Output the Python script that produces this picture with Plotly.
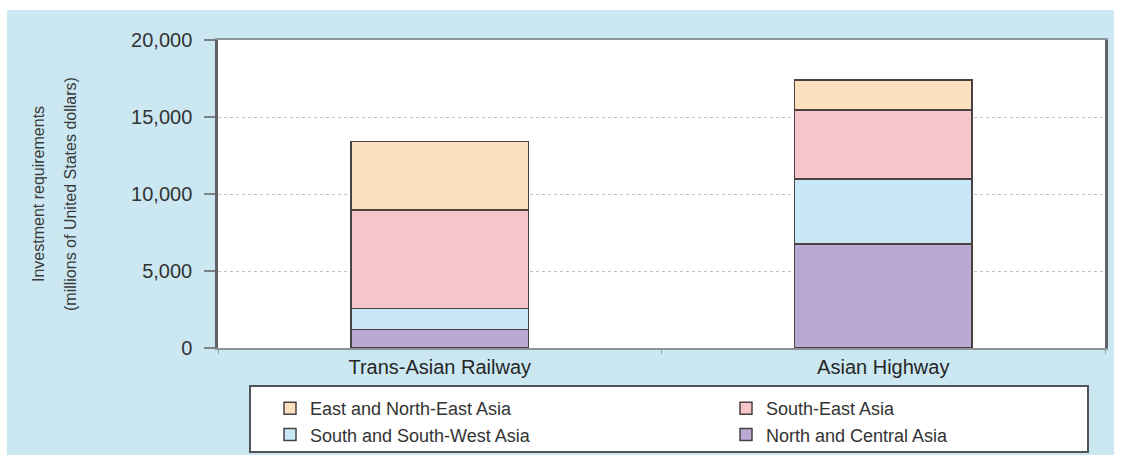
import plotly.graph_objects as go

# ---- data ----
categories = ["Trans-Asian Railway", "Asian Highway"]
series_names = ["North and Central Asia", "South and South-West Asia",
                "South-East Asia", "East and North-East Asia"]
north_central = [1200, 6750]
south_southwest = [1380, 4220]
south_east = [6380, 4480]
east_northeast = [4440, 1950]
y_ticks = [0, 5000, 10000, 15000, 20000]
y_tick_labels = ["0", "5,000", "10,000", "15,000", "20,000"]

colors = ["#b8aad3", "#c8e8f6", "#f7c6cb", "#fde1bf"]
legends = ["legend2", "legend", "legend2", "legend"]
values = [north_central, south_southwest, south_east, east_northeast]

W, H = 1121, 465
ml, mr, mt, mb = 218, 16, 40, 117
pw, ph = W - ml - mr, H - mt - mb


def px_x(x):
    return (x - ml) / pw


def px_y(y):
    return (H - mb - y) / ph


fig = go.Figure()
for name, vals, col, lg in zip(series_names, values, colors, legends):
    fig.add_trace(go.Bar(
        x=categories, y=vals, name=name, width=0.4,
        marker=dict(color=col, line=dict(color="#4a4242", width=1.5)),
        legend=lg,
    ))

font_family = "Liberation Sans, Arial, sans-serif"

fig.update_layout(
    width=W, height=H,
    margin=dict(l=ml, r=mr, t=mt, b=mb, autoexpand=False),
    barmode="stack",
    paper_bgcolor="white",
    plot_bgcolor="rgba(0,0,0,0)",
    font=dict(family=font_family, color="#333333"),
    showlegend=True,
    legend=dict(x=px_x(270), y=px_y(390), xanchor="left", yanchor="top",
                orientation="v", traceorder="reversed",
                bgcolor="rgba(0,0,0,0)", borderwidth=0,
                font=dict(size=18, color="#333333"), tracegroupgap=0),
    legend2=dict(x=px_x(726), y=px_y(390), xanchor="left", yanchor="top",
                 orientation="v", traceorder="reversed",
                 bgcolor="rgba(0,0,0,0)", borderwidth=0,
                 font=dict(size=18, color="#333333"), tracegroupgap=0),
    xaxis=dict(
        range=[-0.5, 1.5], showline=True, mirror=True,
        linecolor="#8a9499", linewidth=2,
        ticks="outside", tickson="boundaries", ticklen=4, tickcolor="#9aa3a7",
        showgrid=False, zeroline=False,
        tickfont=dict(size=20, color="#262626"),
    ),
    yaxis=dict(
        range=[0, 20000], tickvals=y_ticks, ticktext=y_tick_labels,
        showline=True, mirror=True, linecolor="#5c6265", linewidth=2.5,
        ticks="outside", ticklen=11, tickcolor="#7a8185", tickwidth=1.5,
        ticklabelstandoff=8,
        showgrid=True, gridcolor="#c2c2c2", griddash="dot", gridwidth=1,
        zeroline=False,
        tickfont=dict(size=20, color="#333333"),
    ),
    shapes=[
        dict(type="rect", xref="paper", yref="paper", layer="below",
             x0=px_x(7), x1=px_x(1114), y0=px_y(455), y1=px_y(10),
             fillcolor="#cbe8f2", line=dict(width=0)),
        dict(type="rect", xref="paper", yref="paper", layer="below",
             x0=0, x1=1, y0=0, y1=1,
             fillcolor="white", line=dict(width=0)),
        dict(type="rect", xref="paper", yref="paper", layer="below",
             x0=px_x(250), x1=px_x(1088), y0=px_y(452), y1=px_y(386),
             fillcolor="white", line=dict(color="#4f5558", width=2)),
    ],
    annotations=[
        dict(text="Investment requirements", xref="paper", yref="paper",
             x=0, y=0.5, xshift=38 - ml, xanchor="center", yanchor="middle",
             textangle=-90, showarrow=False,
             font=dict(size=16, color="#3a3a3a")),
        dict(text="(millions of United States dollars)", xref="paper", yref="paper",
             x=0, y=0.5, xshift=70 - ml, xanchor="center", yanchor="middle",
             textangle=-90, showarrow=False,
             font=dict(size=16, color="#3a3a3a")),
    ],
)

fig.write_html(
    "out.html",
    config={"displayModeBar": False},
    post_script="document.body.style.margin='0';document.body.style.padding='0';",
)
